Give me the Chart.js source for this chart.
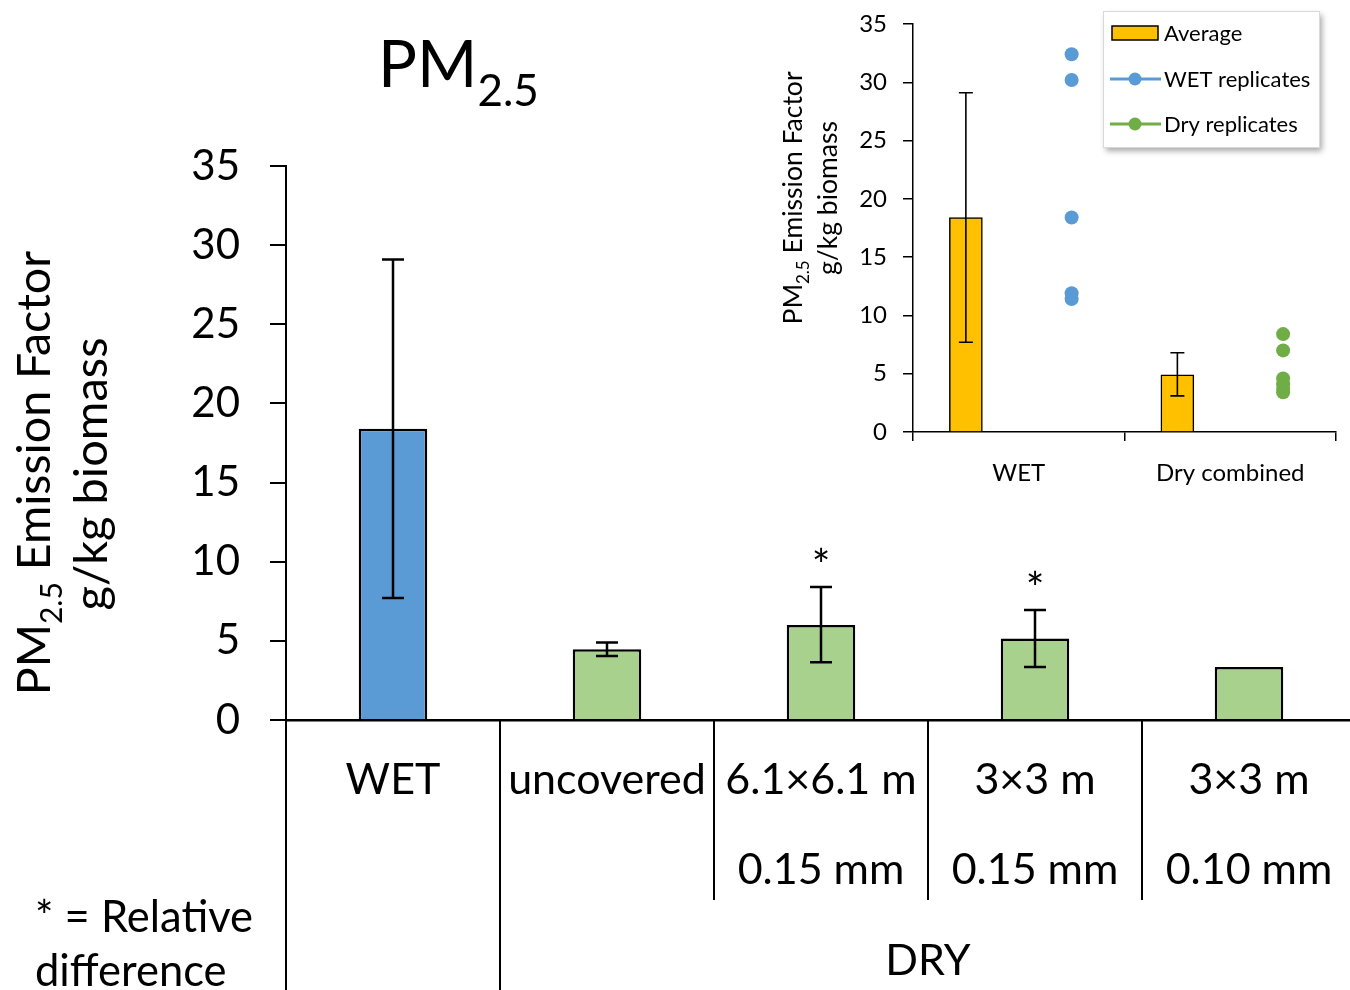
<!DOCTYPE html>
<html>
<head>
<meta charset="utf-8">
<script src="https://cdn.jsdelivr.net/npm/chart.js@4.4.1/dist/chart.umd.min.js"></script>
<style>
  html, body { margin: 0; padding: 0; background: #fff; overflow: hidden; width: 1350px; height: 990px; }
  #wrap { position: relative; width: 1350px; height: 990px; overflow: hidden; }
  #main { position: absolute; left: 0; top: 0; }
  #inset { position: absolute; left: 760px; top: 0; }
</style>
</head>
<body>
<div id="wrap">
  <canvas id="main" width="1360" height="990"></canvas>
  <canvas id="inset" width="590" height="500"></canvas>
</div>
<script>
// ---- Main chart data: PM2.5 emission factor by treatment ----
const categories = [
  ['WET'],
  ['uncovered'],
  ['6.1×6.1 m', '0.15 mm'],
  ['3×3 m', '0.15 mm'],
  ['3×3 m', '0.10 mm']
];
const emissionFactor = [18.4, 4.47, 6.0, 5.15, 3.35];
const errorLow  = [7.7, 4.05, 3.65, 3.35, null];
const errorHigh = [29.1, 4.9, 8.4, 6.95, null];
const relativeDifference = [false, false, true, true, false];
const barColors = ['#5B9BD5', '#A9D18E', '#A9D18E', '#A9D18E', '#A9D18E'];
const yTicks = [0, 5, 10, 15, 20, 25, 30, 35];
const groupLabel = 'DRY';
const groupStart = 1, groupEnd = 4;

// ---- Inset data: averages and individual replicates ----
const insetCategories = ['WET', 'Dry combined'];
const insetAverage = [18.4, 4.9];
const insetErrLow  = [7.7, 3.1];
const insetErrHigh = [29.1, 6.8];
const wetReplicates = [32.4, 30.2, 18.4, 11.9, 11.4];
const dryReplicates = [8.4, 7.0, 4.6, 4.1, 3.7, 3.4];

const FONT = 'Lato, Carlito, Calibri, "Open Sans", sans-serif';

function setFont(ctx, size) { ctx.font = size + 'px ' + FONT; }
function richWidth(ctx, parts) {
  let w = 0;
  for (const p of parts) { setFont(ctx, p.size); w += ctx.measureText(p.text).width; }
  return w;
}
function drawRich(ctx, parts, x, y, align) {
  const w = richWidth(ctx, parts);
  let cx = align === 'center' ? x - w / 2 : x;
  ctx.textAlign = 'left';
  ctx.textBaseline = 'alphabetic';
  for (const p of parts) {
    setFont(ctx, p.size);
    ctx.fillText(p.text, cx, y + (p.dy || 0));
    cx += ctx.measureText(p.text).width;
  }
}
function drawRotated(ctx, parts, x, y) {
  ctx.save();
  ctx.translate(x, y);
  ctx.rotate(-Math.PI / 2);
  drawRich(ctx, parts, 0, 0, 'center');
  ctx.restore();
}
function drawErrorBar(ctx, x, yTop, yBot, cap, lw) {
  ctx.save();
  ctx.strokeStyle = '#000';
  ctx.lineWidth = lw;
  ctx.beginPath();
  ctx.moveTo(x, yTop); ctx.lineTo(x, yBot);
  ctx.moveTo(x - cap / 2, yTop); ctx.lineTo(x + cap / 2, yTop);
  ctx.moveTo(x - cap / 2, yBot); ctx.lineTo(x + cap / 2, yBot);
  ctx.stroke();
  ctx.restore();
}

// Error bars, significance stars, category separators and text decorations
const mainDecor = {
  id: 'mainDecor',
  afterDatasetsDraw(chart) {
    const ctx = chart.ctx;
    const y = chart.scales.y;
    const bars = chart.getDatasetMeta(0).data;
    bars.forEach((bar, i) => {
      if (errorLow[i] == null) return;
      const top = y.getPixelForValue(errorHigh[i]);
      const bot = y.getPixelForValue(errorLow[i]);
      drawErrorBar(ctx, bar.x, top, bot, 22, 2.5);
      if (relativeDifference[i]) {
        ctx.save();
        ctx.fillStyle = '#000';
        setFont(ctx, 44);
        ctx.textAlign = 'center';
        ctx.textBaseline = 'alphabetic';
        ctx.fillText('*', bar.x, top - 6);
        ctx.restore();
      }
    });
  },
  afterDraw(chart) {
    const ctx = chart.ctx;
    const x = chart.scales.x;
    const base = chart.chartArea.bottom;
    ctx.save();
    ctx.strokeStyle = '#000';
    ctx.lineWidth = 2;
    for (let i = 0; i <= categories.length; i++) {
      const px = Math.round(x.getPixelForValue(i - 0.5));
      const full = i <= groupStart;
      ctx.beginPath();
      ctx.moveTo(px, base);
      ctx.lineTo(px, full ? 990 : 900);
      ctx.stroke();
    }
    ctx.fillStyle = '#000';
    // group label under the dry treatments
    const gx = (x.getPixelForValue(groupStart - 0.5) + x.getPixelForValue(groupEnd + 0.5)) / 2;
    drawRich(ctx, [{ text: groupLabel, size: 43 }], gx, 975, 'center');
    // chart title
    drawRich(ctx, [{ text: 'PM', size: 65 }, { text: '2.5', size: 44, dy: 19 }], 378, 87, 'left');
    // y-axis title (two lines)
    drawRotated(ctx, [{ text: 'PM', size: 46.5 }, { text: '2.5', size: 30, dy: 12 }, { text: ' Emission Factor', size: 46.5 }], 50, 473);
    drawRotated(ctx, [{ text: 'g/kg biomass', size: 47 }], 107, 474);
    // footnote
    drawRich(ctx, [{ text: '* = Relative', size: 43.5 }], 35, 932, 'left');
    drawRich(ctx, [{ text: 'difference', size: 43.5 }], 35, 986, 'left');
    ctx.restore();
  }
};

new Chart(document.getElementById('main'), {
  type: 'bar',
  data: {
    labels: categories,
    datasets: [{
      label: 'PM2.5 emission factor',
      data: emissionFactor,
      backgroundColor: barColors,
      borderColor: '#000',
      borderWidth: 2.5,
      barPercentage: 0.32,
      categoryPercentage: 1
    }]
  },
  options: {
    responsive: false,
    animation: false,
    devicePixelRatio: 1,
    layout: { padding: { top: 166, right: 4, left: 0, bottom: 0 } },
    plugins: { legend: { display: false }, tooltip: { enabled: false } },
    scales: {
      x: {
        grid: { display: false, drawTicks: false },
        border: { display: true, color: '#000', width: 2.5 },
        ticks: {
          color: '#000',
          font: { family: FONT, size: 43, lineHeight: 2.1 },
          padding: 15,
          maxRotation: 0,
          autoSkip: false
        },
        afterFit(s) { s.height = 270; s.paddingLeft = 0; s.paddingRight = 0; }
      },
      y: {
        min: 0,
        max: 35,
        afterBuildTicks(s) { s.ticks = yTicks.map(v => ({ value: v })); },
        ticks: { color: '#000', font: { family: FONT, size: 42 }, padding: 30 },
        grid: { drawOnChartArea: false, color: '#000', tickLength: 16, lineWidth: 2 },
        border: { color: '#000', width: 2 },
        afterFit(s) { s.width = 286; s.paddingTop = 0; s.paddingBottom = 0; }
      }
    }
  },
  plugins: [mainDecor]
});

// ---- Inset chart ----
const insetDecor = {
  id: 'insetDecor',
  afterDatasetsDraw(chart) {
    const ctx = chart.ctx;
    const y = chart.scales.y;
    chart.getDatasetMeta(0).data.forEach((bar, i) => {
      drawErrorBar(ctx, bar.x, y.getPixelForValue(insetErrHigh[i]), y.getPixelForValue(insetErrLow[i]), 14, 1.6);
    });
  },
  afterDraw(chart) {
    const ctx = chart.ctx;
    ctx.save();
    ctx.fillStyle = '#000';
    drawRotated(ctx, [{ text: 'PM', size: 26.5 }, { text: '2.5', size: 17, dy: 7 }, { text: ' Emission Factor', size: 26.5 }], 42, 198);
    drawRotated(ctx, [{ text: 'g/kg biomass', size: 26.5 }], 77, 198);

    // legend box with drop shadow
    const bx = 343, by = 11, bw = 216, bh = 136;
    ctx.save();
    ctx.shadowColor = 'rgba(0,0,0,0.35)';
    ctx.shadowBlur = 6;
    ctx.shadowOffsetX = 3;
    ctx.shadowOffsetY = 4;
    ctx.fillStyle = '#fff';
    ctx.fillRect(bx, by, bw, bh);
    ctx.restore();
    ctx.strokeStyle = '#D9D9D9';
    ctx.lineWidth = 1;
    ctx.strokeRect(bx + 0.5, by + 0.5, bw, bh);

    const ds = chart.data.datasets;
    const rows = [33, 79, 124];
    ds.forEach((d, i) => {
      const ry = rows[i];
      if (d.type === 'bar') {
        ctx.fillStyle = d.backgroundColor;
        ctx.fillRect(352, ry - 7, 46, 14);
        ctx.strokeStyle = '#000';
        ctx.lineWidth = 1.5;
        ctx.strokeRect(352, ry - 7, 46, 14);
      } else {
        ctx.strokeStyle = d.borderColor;
        ctx.lineWidth = 3;
        ctx.beginPath(); ctx.moveTo(350, ry); ctx.lineTo(401, ry); ctx.stroke();
        ctx.fillStyle = d.backgroundColor;
        ctx.beginPath(); ctx.arc(375, ry, 6.5, 0, Math.PI * 2); ctx.fill();
      }
      ctx.fillStyle = '#000';
      setFont(ctx, 22);
      ctx.textAlign = 'left';
      ctx.textBaseline = 'middle';
      ctx.fillText(d.label, 404, ry + 1);
    });
    ctx.restore();
  }
};

new Chart(document.getElementById('inset'), {
  data: {
    datasets: [
      {
        type: 'bar',
        label: 'Average',
        data: insetAverage.map((v, i) => ({ x: i + 0.25, y: v })),
        backgroundColor: '#FFC000',
        borderColor: '#000',
        borderWidth: 1.5,
        barThickness: 33,
        order: 3
      },
      {
        type: 'line',
        label: 'WET replicates',
        data: wetReplicates.map(v => ({ x: 0.75, y: v })),
        showLine: false,
        pointRadius: 7,
        pointBorderWidth: 0,
        backgroundColor: '#5B9BD5',
        borderColor: '#5B9BD5',
        order: 1
      },
      {
        type: 'line',
        label: 'Dry replicates',
        data: dryReplicates.map(v => ({ x: 1.75, y: v })),
        showLine: false,
        pointRadius: 7,
        pointBorderWidth: 0,
        backgroundColor: '#70AD47',
        borderColor: '#70AD47',
        order: 2
      }
    ]
  },
  options: {
    responsive: false,
    animation: false,
    devicePixelRatio: 1,
    layout: { padding: { top: 24, right: 14, left: 0, bottom: 0 } },
    plugins: { legend: { display: false }, tooltip: { enabled: false } },
    scales: {
      x: {
        type: 'linear',
        offset: false,
        min: 0,
        max: insetCategories.length,
        afterBuildTicks(s) {
          const t = [];
          for (let i = 0; i <= insetCategories.length * 2; i++) t.push({ value: i / 2 });
          s.ticks = t;
        },
        ticks: {
          color: '#000',
          font: { family: FONT, size: 24 },
          padding: 18,
          autoSkip: false,
          maxRotation: 0,
          callback(v) {
            const i = v - 0.5;
            return Number.isInteger(i) ? insetCategories[i] : '';
          }
        },
        grid: {
          offset: false,
          drawOnChartArea: false,
          tickLength: 9,
          lineWidth: 1.5,
          color: c => (c.tick && Number.isInteger(c.tick.value)) ? '#000' : 'rgba(0,0,0,0)'
        },
        border: { color: '#000', width: 1.5 },
        afterFit(s) { s.height = 68; s.paddingLeft = 0; s.paddingRight = 0; }
      },
      y: {
        min: 0,
        max: 35,
        afterBuildTicks(s) { s.ticks = yTicks.map(v => ({ value: v })); },
        ticks: { color: '#000', font: { family: FONT, size: 24 }, padding: 16 },
        grid: { drawOnChartArea: false, color: '#000', tickLength: 10, lineWidth: 1.5 },
        border: { color: '#000', width: 1.5 },
        afterFit(s) { s.width = 153; s.paddingTop = 0; s.paddingBottom = 0; }
      }
    }
  },
  plugins: [insetDecor]
});
</script>
</body>
</html>
